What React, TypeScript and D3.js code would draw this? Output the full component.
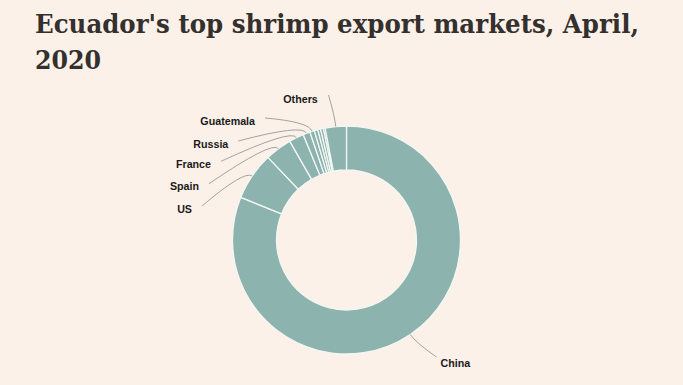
import React from 'react'
import * as d3 from 'd3'

// shares of Ecuador's shrimp exports, April 2020 (%), clockwise from 12 o'clock
const markets = ['China', 'US', 'Spain', 'France', 'Russia', 'Guatemala', 'm7', 'm8', 'm9', 'm10', 'Others']
const shares = [81.1, 6.8, 3.8, 2.1, 1.0, 0.65, 0.5, 0.4, 0.4, 0.25, 3.0]
const labelled = ['China', 'US', 'Spain', 'France', 'Russia', 'Guatemala', 'Others']

const titleLines = ["Ecuador's top shrimp export markets, April,", '2020']

const W = 683
const H = 385
const cx = 346.5
const cy = 240
const outerR = 114
const innerR = 70

// where each label's text sits, relative to the donut centre
const labelPos: Record<string, {dx: number; dy: number; anchor: string}> = {
  China: {dx: 94, dy: 123, anchor: 'start'},
  US: {dx: -154.5, dy: -31, anchor: 'end'},
  Spain: {dx: -147.5, dy: -53.3, anchor: 'end'},
  France: {dx: -135.5, dy: -75.7, anchor: 'end'},
  Russia: {dx: -118.2, dy: -96, anchor: 'end'},
  Guatemala: {dx: -91.5, dy: -119, anchor: 'end'},
  Others: {dx: -46, dy: -141, anchor: 'middle'}
}

export default function App() {
  const data = markets.map((name, i) => ({name, value: shares[i]}))
  const pie = d3
    .pie<{name: string; value: number}>()
    .sort(null)
    .value(d => d.value)
  const arcs = pie(data)
  const arc = d3
    .arc<d3.PieArcDatum<{name: string; value: number}>>()
    .innerRadius(innerR)
    .outerRadius(outerR)

  const polar = (a: number, r: number) => [Math.sin(a) * r, -Math.cos(a) * r]

  const leaders = arcs
    .filter(a => labelled.includes(a.data.name))
    .map(a => {
      const mid = (a.startAngle + a.endAngle) / 2
      const lp = labelPos[a.data.name]
      let sx = lp.dx
      let sy = lp.dy - 3
      if (lp.anchor === 'end') sx += 10
      if (lp.anchor === 'start') {
        sx -= 4
        sy -= 3
      }
      if (lp.anchor === 'middle') {
        sx += 28
        sy -= 1
      }
      const [ex, ey] = polar(mid, outerR)
      const [qx, qy] = polar(mid, outerR + 10)
      const path = d3.path()
      path.moveTo(sx, sy)
      path.quadraticCurveTo(qx, qy, ex, ey)
      return {name: a.data.name, d: path.toString()}
    })

  return (
    <svg
      width={W}
      height={H}
      style={{position: 'absolute', left: 0, top: 0, display: 'block'}}
    >
      <rect width={W} height={H} fill="#fcf1e9" />
      <g fill="#33302e" fontFamily="'DejaVu Serif', serif" fontWeight="bold" fontSize={26}>
        <text x={35} y={33} textLength={604} lengthAdjust="spacingAndGlyphs">
          {titleLines[0]}
        </text>
        <text x={35} y={69} textLength={66} lengthAdjust="spacingAndGlyphs">
          {titleLines[1]}
        </text>
      </g>
      <g transform={`translate(${cx},${cy})`}>
        {arcs.map(a => (
          <path
            key={a.data.name}
            d={arc(a) || ''}
            fill="#8cb3ae"
            stroke="#f3f7f4"
            strokeWidth={1.3}
          />
        ))}
        {leaders.map(l => (
          <path key={l.name} d={l.d} fill="none" stroke="#9a9894" strokeWidth={0.9} />
        ))}
        <g fontFamily="'Liberation Sans', Arial, sans-serif" fontWeight="bold" fontSize={10.7} fill="#1a1a1a">
          {labelled.map(name => {
            const lp = labelPos[name]
            return (
              <text key={name} x={lp.dx} y={lp.dy} dy="0.35em" textAnchor={lp.anchor}>
                {name}
              </text>
            )
          })}
        </g>
      </g>
    </svg>
  )
}
